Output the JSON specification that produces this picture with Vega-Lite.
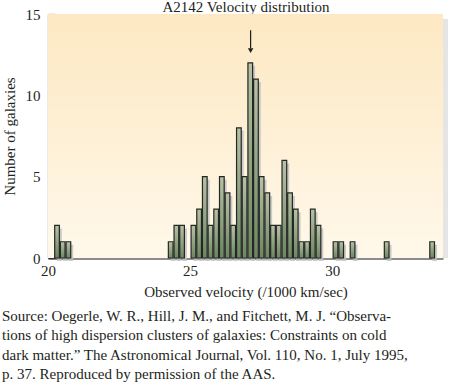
{
  "$schema": "https://vega.github.io/schema/vega-lite/v6.json",
  "autosize": {"type": "none"},
  "padding": {"left": 48, "top": 14, "right": 22, "bottom": 126},
  "width": 395,
  "height": 244,
  "background": "#ffffff",
  "config": {
    "view": {"stroke": null},
    "font": "Liberation Serif"
  },
  "title": {
    "text": [
      "Source: Oegerle, W. R., Hill, J. M., and Fitchett, M. J. “Observa-",
      "tions of high dispersion clusters of galaxies: Constraints on cold",
      "dark matter.” The Astronomical Journal, Vol. 110, No. 1, July 1995,",
      "p. 37. Reproduced by permission of the AAS."
    ],
    "orient": "bottom",
    "anchor": "start",
    "frame": "group",
    "dx": -46,
    "offset": 10,
    "font": "Liberation Serif",
    "fontSize": 15,
    "fontWeight": "normal",
    "color": "#231f20",
    "lineHeight": 19.3
  },
  "datasets": {
    "bins": [
      {"start": 20.2, "end": 20.4, "count": 2},
      {"start": 20.4, "end": 20.6, "count": 1},
      {"start": 20.6, "end": 20.8, "count": 1},
      {"start": 24.2, "end": 24.4, "count": 1},
      {"start": 24.4, "end": 24.6, "count": 2},
      {"start": 24.6, "end": 24.8, "count": 2},
      {"start": 25.0, "end": 25.2, "count": 2},
      {"start": 25.2, "end": 25.4, "count": 3},
      {"start": 25.4, "end": 25.6, "count": 5},
      {"start": 25.6, "end": 25.8, "count": 2},
      {"start": 25.8, "end": 26.0, "count": 3},
      {"start": 26.0, "end": 26.2, "count": 5},
      {"start": 26.2, "end": 26.4, "count": 4},
      {"start": 26.4, "end": 26.6, "count": 2},
      {"start": 26.6, "end": 26.8, "count": 8},
      {"start": 26.8, "end": 27.0, "count": 5},
      {"start": 27.0, "end": 27.2, "count": 12},
      {"start": 27.2, "end": 27.4, "count": 11},
      {"start": 27.4, "end": 27.6, "count": 5},
      {"start": 27.6, "end": 27.8, "count": 4},
      {"start": 27.8, "end": 28.0, "count": 2},
      {"start": 28.0, "end": 28.2, "count": 2},
      {"start": 28.2, "end": 28.4, "count": 6},
      {"start": 28.4, "end": 28.6, "count": 4},
      {"start": 28.6, "end": 28.8, "count": 3},
      {"start": 28.8, "end": 29.0, "count": 1},
      {"start": 29.0, "end": 29.2, "count": 1},
      {"start": 29.2, "end": 29.4, "count": 3},
      {"start": 29.4, "end": 29.6, "count": 2},
      {"start": 30.0, "end": 30.2, "count": 1},
      {"start": 30.2, "end": 30.4, "count": 1},
      {"start": 30.6, "end": 30.8, "count": 1},
      {"start": 31.8, "end": 32.0, "count": 1},
      {"start": 33.4, "end": 33.6, "count": 1}
    ],
    "arrow": [
      {"velocity": 27.13, "from": 14.0, "to": 12.9, "tip": 12.75}
    ],
    "panel": [{"name": "plot"}]
  },
  "resolve": {"axis": {"x": "independent"}},
  "layer": [
    {
      "data": {"name": "panel"},
      "mark": {"type": "rect", "color": "#d4d4d4", "opacity": 0.6, "xOffset": 5, "yOffset": 5},
      "encoding": {}
    },
    {
      "data": {"name": "panel"},
      "mark": {
        "type": "rect",
        "color": {
          "gradient": "linear", "x1": 0, "y1": 0, "x2": 0, "y2": 1,
          "stops": [{"offset": 0, "color": "#fde8c2"}, {"offset": 1, "color": "#fff8ea"}]
        }
      },
      "encoding": {}
    },
    {
      "data": {"name": "bins"},
      "mark": {"type": "bar", "color": "#c2c2c2", "opacity": 0.85, "xOffset": 2.5, "yOffset": 3},
      "encoding": {
        "x": {"field": "start", "type": "quantitative", "bin": "binned", "scale": {"domain": [20, 33.9], "nice": false, "zero": false}, "axis": null},
        "x2": {"field": "end"},
        "y": {"field": "count", "type": "quantitative", "scale": {"domain": [0, 15], "nice": false}}
      }
    },
    {
      "data": {"name": "bins"},
      "mark": {
        "type": "bar",
        "stroke": "#262626",
        "strokeWidth": 1.2,
        "color": {
          "gradient": "linear", "x1": 0, "y1": 0, "x2": 0, "y2": 1,
          "stops": [{"offset": 0, "color": "#b6c2a4"}, {"offset": 1, "color": "#6b8760"}]
        }
      },
      "encoding": {
        "x": {
          "field": "start", "type": "quantitative", "bin": "binned",
          "scale": {"domain": [20, 33.9], "nice": false, "zero": false},
          "axis": {
            "title": "Observed velocity (/1000 km/sec)",
            "values": [20, 25, 30],
            "ticks": false,
            "grid": false,
            "labelFlush": false,
            "domainColor": "#8c8c8c",
            "domainWidth": 3,
            "labelFont": "Liberation Serif",
            "labelFontSize": 15,
            "labelColor": "#231f20",
            "labelPadding": 5,
            "titleFont": "Liberation Serif",
            "titleFontSize": 15,
            "titleFontWeight": "normal",
            "titleColor": "#231f20",
            "titlePadding": 6
          }
        },
        "x2": {"field": "end"},
        "y": {
          "field": "count", "type": "quantitative",
          "scale": {"domain": [0, 15], "nice": false},
          "axis": {
            "title": "Number of galaxies",
            "values": [0, 5, 10, 15],
            "grid": true,
            "gridColor": "#ffffff",
            "gridWidth": 1.5,
            "domainColor": "#333333",
            "domainWidth": 1.2,
            "tickColor": "#333333",
            "tickSize": -7,
            "tickWidth": 1.2,
            "labelFlush": false,
            "labelFont": "Liberation Serif",
            "labelFontSize": 15,
            "labelColor": "#231f20",
            "labelPadding": 15,
            "titleFont": "Liberation Serif",
            "titleFontSize": 15,
            "titleFontWeight": "normal",
            "titleColor": "#231f20",
            "titlePadding": 8
          }
        }
      }
    },
    {
      "data": {"name": "arrow"},
      "mark": {"type": "rule", "color": "#1e1e1e", "strokeWidth": 1.2},
      "encoding": {
        "x": {
          "field": "velocity", "type": "quantitative",
          "axis": {
            "orient": "top",
            "title": "A2142 Velocity distribution",
            "labels": false,
            "ticks": false,
            "domain": false,
            "grid": false,
            "titleFont": "Liberation Serif",
            "titleFontSize": 15,
            "titleFontWeight": "normal",
            "titleColor": "#231f20",
            "titlePadding": 0
          }
        },
        "y": {"field": "from", "type": "quantitative"},
        "y2": {"field": "to"}
      }
    },
    {
      "data": {"name": "arrow"},
      "mark": {"type": "point", "shape": "triangle-down", "filled": true, "color": "#1e1e1e", "size": 30, "opacity": 1},
      "encoding": {
        "x": {"field": "velocity", "type": "quantitative", "axis": null},
        "y": {"field": "tip", "type": "quantitative"}
      }
    }
  ]
}
